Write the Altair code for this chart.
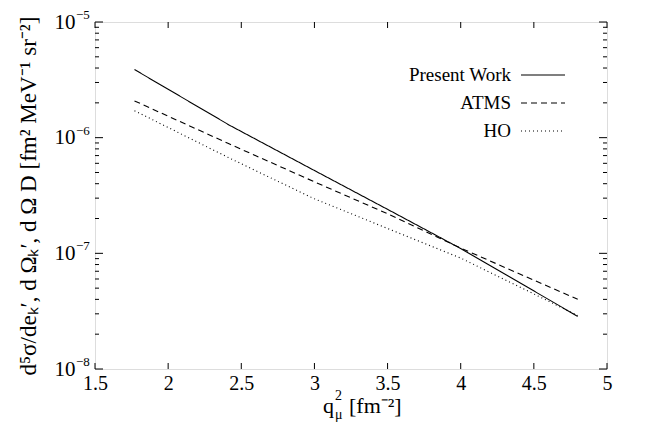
import altair as alt
import pandas as pd

# ---- data ----
q2 = [1.77, 2.42, 3.0, 3.5, 4.0, 4.8]
present_work = [3.88e-6, 1.28e-6, 5.2e-7, 2.4e-7, 1.1e-7, 2.85e-8]
atms = [2.08e-6, 8.8e-7, 4.15e-7, 2.2e-7, 1.11e-7, 4.0e-8]
ho = [1.71e-6, 6.65e-7, 2.96e-7, 1.64e-7, 9.1e-8, 2.9e-8]

series_names = ["Present Work", "ATMS", "HO"]
series_dash = [[1, 0], [6, 4], [1, 3]]

x_ticks = [1.5, 2, 2.5, 3, 3.5, 4, 4.5, 5]
y_major = [1e-8, 1e-7, 1e-6, 1e-5]
y_exponents = ["−8", "−7", "−6", "−5"]
y_minor = [m * 10.0 ** e for e in (-8, -7, -6) for m in range(2, 10)]

W, H = 512, 347
FONT = "Liberation Serif"

rows = []
for name, vals in zip(series_names, [present_work, atms, ho]):
    for x, v in zip(q2, vals):
        rows.append({"q2": x, "val": v, "series": name})
df = pd.DataFrame(rows)

xscale = alt.Scale(domain=[1.5, 5])
yscale = alt.Scale(type="log", domain=[1e-8, 1e-5])

lines = alt.Chart(df).mark_line(color="black", strokeWidth=1.1).encode(
    x=alt.X("q2:Q", scale=xscale,
            axis=alt.Axis(values=x_ticks, ticks=False, domain=False, grid=False,
                          format="~g",
                          labelFont=FONT, labelFontSize=20, labelColor="black",
                          labelPadding=4, title=None, labelFlush=False,
                          labelOverlap=False)),
    y=alt.Y("val:Q", scale=yscale,
            axis=alt.Axis(values=y_major, ticks=False, domain=False, grid=False,
                          labelExpr="'10'", labelFont=FONT, labelFontSize=21,
                          labelColor="black", labelPadding=20, labelBaseline="middle",
                          title="d⁵σ/deₖ′, d Ωₖ′, d Ω D [fm² MeV⁻¹ sr⁻²]",
                          titleFont=FONT, titleFontSize=23, titleFontWeight="normal",
                          titleColor="black", titlePadding=14, labelFlush=False,
                          labelOverlap=False)),
    strokeDash=alt.StrokeDash("series:N",
                              scale=alt.Scale(domain=series_names, range=series_dash),
                              legend=None),
    detail="series:N",
)

# exponents of the y tick labels, placed through the y scale
exp_df = pd.DataFrame({"t": y_major, "e": y_exponents})
exps = alt.Chart(exp_df).mark_text(
    align="left", baseline="middle", font=FONT, fontSize=13, color="black", dy=-7
).encode(y=alt.Y("t:Q", scale=yscale), x=alt.value(-19), text="e:N")

# inward tick marks drawn through the scales
xt = pd.DataFrame({"t": x_ticks})
ymj = pd.DataFrame({"t": y_major})
ymn = pd.DataFrame({"t": y_minor})

def xtick(y0, y1):
    return alt.Chart(xt).mark_rule(color="black", strokeWidth=1).encode(
        x=alt.X("t:Q", scale=xscale), y=alt.value(y0), y2=alt.value(y1))

def ytick(d, x0, x1):
    return alt.Chart(d).mark_rule(color="black", strokeWidth=1).encode(
        y=alt.Y("t:Q", scale=yscale), x=alt.value(x0), x2=alt.value(x1))

ticks = [
    xtick(H, H - 6), xtick(0, 6),
    ytick(ymj, 0, 8), ytick(ymj, W, W - 8),
    ytick(ymn, 0, 4), ytick(ymn, W, W - 4),
]

# legend drawn by hand
leg_y = [53, 81, 109]
legend_layers = []
for name, dash, ly in zip(series_names, series_dash, leg_y):
    legend_layers.append(
        alt.Chart(pd.DataFrame({"s": [name]})).mark_text(
            align="right", baseline="middle", font=FONT, fontSize=19, color="black"
        ).encode(text="s:N", x=alt.value(416), y=alt.value(ly)))
    legend_layers.append(
        alt.Chart(pd.DataFrame({"s": [name]})).mark_rule(
            color="black", strokeWidth=1.1, strokeDash=dash
        ).encode(x=alt.value(426), x2=alt.value(470), y=alt.value(ly)))

# x-axis title with stacked super/subscript
xt_parts = [
    ("q", 228, 391, 22),
    ("2", 240, 378, 14),
    ("μ", 240, 397, 14),
    ("[fm⁻²]", 254, 391, 22),
]
xtitle_layers = []
for txt, px, py, fs in xt_parts:
    xtitle_layers.append(
        alt.Chart(pd.DataFrame({"s": [txt]})).mark_text(
            align="left", baseline="alphabetic", font=FONT, fontSize=fs, color="black"
        ).encode(text="s:N", x=alt.value(px), y=alt.value(py)))

chart = alt.layer(lines, exps, *ticks, *legend_layers, *xtitle_layers).properties(
    width=W, height=H,
    autosize=alt.AutoSizeParams(type="none"),
    padding={"left": 87, "top": 14, "right": 50, "bottom": 58},
).configure_view(stroke="black", strokeWidth=1.2).configure(background="white")

chart.save("out.html", embed_options={"renderer": "svg", "actions": False})
